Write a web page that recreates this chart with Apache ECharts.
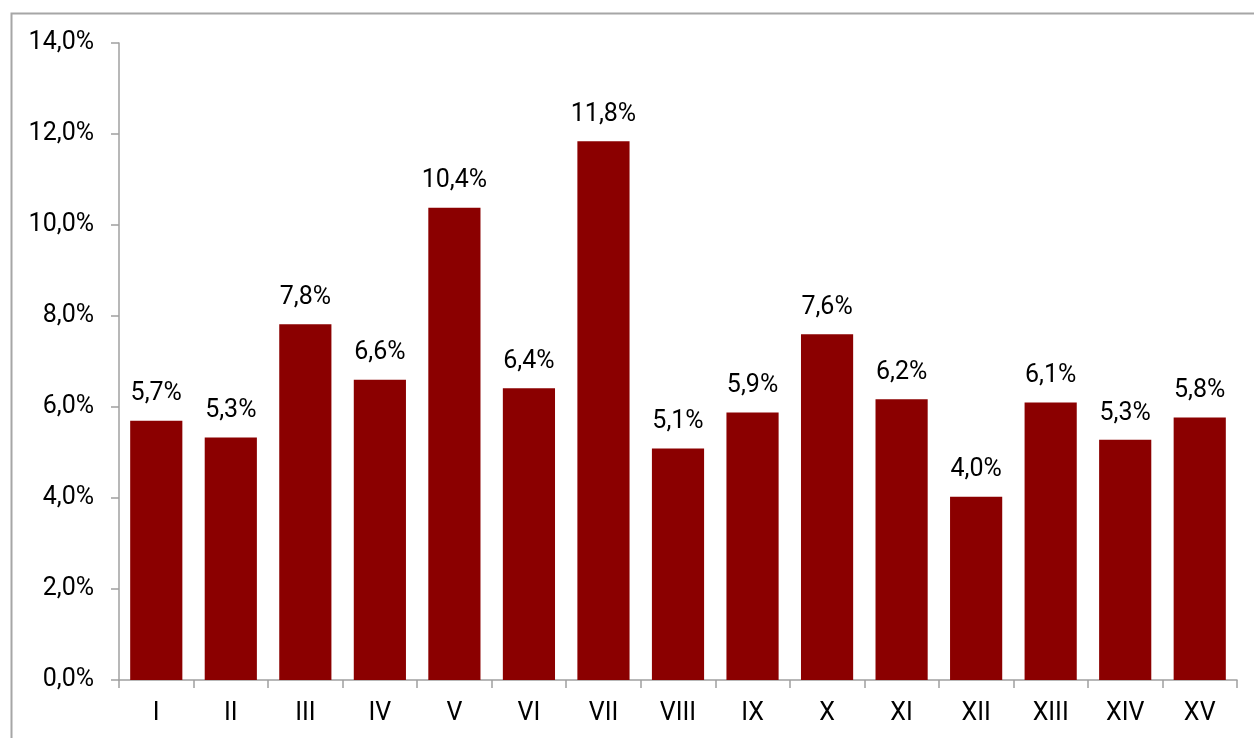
<!DOCTYPE html>
<html>
<head>
<meta charset="utf-8">
<script src="https://cdn.jsdelivr.net/npm/echarts@6/dist/echarts.min.js"></script>
<style>
  html, body { margin: 0; padding: 0; background: #fff; }
  #chart { width: 1254px; height: 738px; }
</style>
</head>
<body>
<div id="chart"></div>
<script>
// 类别
var categories = ['I', 'II', 'III', 'IV', 'V', 'VI', 'VII', 'VIII', 'IX', 'X', 'XI', 'XII', 'XIII', 'XIV', 'XV'];
// 百分比数值
var values = [5.70, 5.33, 7.82, 6.60, 10.38, 6.41, 11.84, 5.09, 5.88, 7.60, 6.17, 4.03, 6.10, 5.28, 5.77];
// y轴刻度
var yMin = 0, yMax = 14, yStep = 2;

function pct(v) {
  return v.toFixed(1).replace('.', ',') + '%';
}

var myChart = echarts.init(document.getElementById('chart'));
var option = {
  animation: false,
  textStyle: { fontFamily: 'Roboto' },
  graphic: [{
    type: 'rect',
    shape: { x: 11.5, y: 13.5, width: 1260, height: 740 },
    style: { fill: 'none', stroke: '#a6a6a6', lineWidth: 2 },
    silent: true
  }],
  grid: { left: 119, right: 17, top: 43, bottom: 58 },
  xAxis: {
    type: 'category',
    data: categories,
    axisLine: { lineStyle: { color: '#a0a0a0', width: 1.5 } },
    axisTick: { show: true, length: 8, alignWithLabel: false, lineStyle: { color: '#a0a0a0', width: 1.5 } },
    axisLabel: { color: '#000', fontSize: 25, margin: 21 }
  },
  yAxis: {
    type: 'value',
    min: yMin,
    max: yMax,
    interval: yStep,
    splitLine: { show: false },
    axisLine: { show: true, lineStyle: { color: '#a0a0a0', width: 1.5 } },
    axisTick: { show: true, length: 8, lineStyle: { color: '#a0a0a0', width: 1.5 } },
    axisLabel: { color: '#000', fontSize: 25, margin: 25, formatter: function(v){ return pct(v); } }
  },
  series: [{
    type: 'bar',
    data: values,
    barCategoryGap: '30%',
    itemStyle: { color: '#8b0000' },
    label: {
      show: true,
      position: 'top',
      distance: 14,
      color: '#000',
      fontSize: 25,
      formatter: function(p){ return pct(p.value); }
    }
  }]
};
myChart.setOption(option);
</script>
</body>
</html>
